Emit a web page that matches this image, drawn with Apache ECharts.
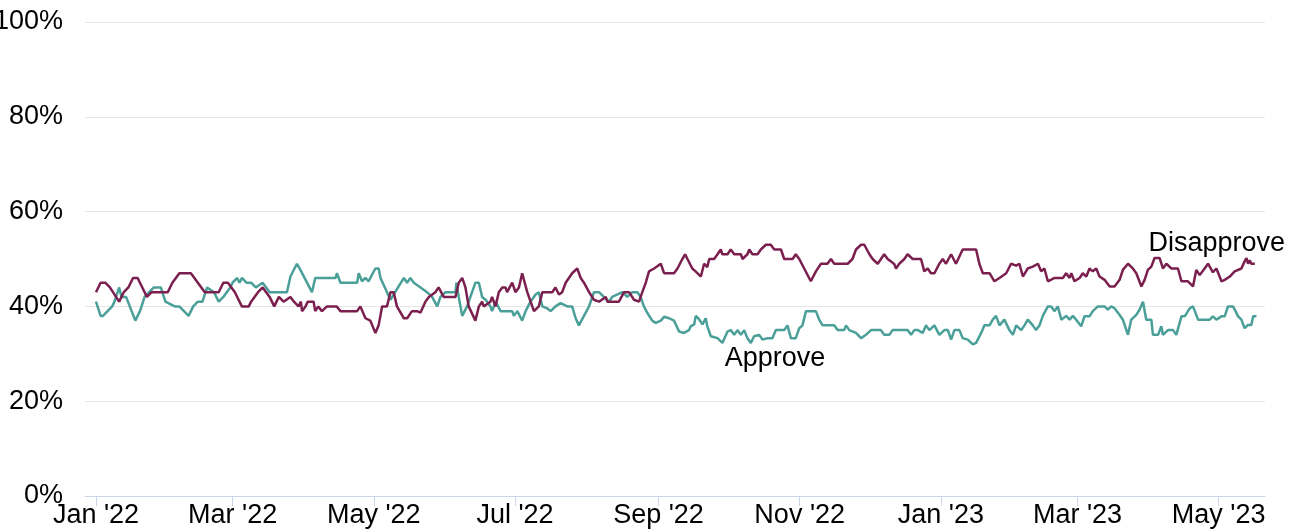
<!DOCTYPE html>
<html>
<head>
<meta charset="utf-8">
<script src="https://cdn.jsdelivr.net/npm/echarts@6/dist/echarts.min.js"></script>
<style>
html,body{margin:0;padding:0;background:#fff;}
#chart{width:1295px;height:532px;}
</style>
</head>
<body>
<div id="chart"></div>
<script>
// Day offsets counted from 2022-01-01, values in percent
var startDate = '2022-01-01';
var approveSeries = [
[0,41],[2,38],[3,38],[5,39],[7,40],[8,41],[10,44],[11,42],[13,42],[17,37],[19,39],[21,42],[23,43],[25,44],[28,44],[30,41],[34,40],[36,40],[40,38],[42,40],[44,41],[46,41],[48,44],[51,43],[53,41],[55,42],[58,44],[59,45],[61,46],[62,45],[63,46],[65,45],[67,45],[69,44],[72,45],[75,43],[77,43],[79.6,43],[82.5,43],[84,46.3],[86.8,49],[88.3,47.7],[93.3,43],[94.7,46],[103.5,46],[104.1,47],[105.6,45],[112.8,45],[113.5,47],[114.9,45.3],[116.4,46],[117.8,45.3],[118.5,46],[120.7,48],[122.1,48],[122.9,46],[127.2,41.4],[133,46],[134.4,45],[135.8,46],[137.3,45],[140.2,44],[143,43],[145.2,42],[147.4,40],[148.8,42],[151,43],[155.3,43],[155.7,45],[156.7,42],[158.2,38],[160.3,40],[163.9,45],[165.4,45],[166.8,42],[168.3,41.4],[170.4,40],[171.1,39],[171.9,40],[172.6,41],[174.8,39],[179.8,39],[180.5,38],[182,39],[184.1,37],[185.6,39],[187.7,41],[189.9,42.5],[191.3,43],[192.8,40],[194.9,39.6],[196.4,39],[198.5,40],[200.7,40.7],[203.6,40],[205.7,40],[207.2,37.5],[208.6,36],[210.8,38],[213,40],[215.1,43],[217.3,43],[219.4,42],[221.6,41],[223,42],[227.4,43],[229.5,42],[231.7,43],[233.9,43],[235.3,42],[236.7,40],[238.2,38.6],[240.3,37],[241.8,36.5],[244,37],[245.4,37.8],[247.6,37.5],[249.7,37],[251.9,34.7],[254,34.4],[256.2,35],[256.9,35.8],[258.4,36.2],[259.1,38],[260.5,37.3],[262,36.2],[263.4,37.5],[264.1,35.8],[265.6,33.7],[268.5,33.3],[270.6,32.3],[272.8,34.7],[274.2,35],[275.7,34],[277.1,35],[278.6,34],[280,35],[281.4,33.3],[282.9,32.3],[284.3,33.7],[286.5,34],[287.9,33],[290.1,33.3],[292.2,33.3],[293.7,35],[297.3,35],[298.7,36],[300.2,33.3],[302.3,33.3],[303.8,35.4],[305.2,36],[306.7,39],[311,39],[312.4,37.2],[313.9,36],[318.9,36],[320.4,35],[323.2,35],[324,36],[325.4,35],[328.3,34.4],[330.5,33.3],[332.6,34],[334.8,35],[339.1,35],[340.5,34],[342.7,34],[344.1,35],[350.6,35],[352.1,34],[353.5,35],[355,35],[357.1,34.4],[358.6,36],[360,35],[362.2,36],[364.3,34],[366.5,35],[368,35],[369.4,33],[370.8,35],[373,35],[374.4,33.3],[376.6,33],[378.8,32],[380.2,32.3],[382.4,34.4],[383.8,36],[386,36],[387.4,37.2],[388.8,38],[390.3,36],[392.4,37.2],[394.6,35],[396.1,34],[397.5,36],[399.7,35],[401.1,36],[402.5,37.2],[404.7,36],[406.1,35],[407.6,36],[409,38],[411.2,40],[412.6,40],[414.1,39],[415.5,40],[417,37.2],[419.1,38],[420.6,37.2],[422,38],[423.4,37.2],[425.6,35.8],[427,37.9],[429.2,37.9],[430.6,39],[432.8,40],[435.7,40],[437.1,39.3],[438.6,40],[440,39.6],[442.2,38.2],[443.6,37.2],[445.8,34],[447.2,37.2],[449.4,38.2],[450.8,39.3],[452.3,41],[453.7,37.2],[455.9,37.2],[456.6,34],[458.8,34],[460.2,35.8],[460.9,34],[463.1,35],[465.3,35],[466.7,34],[468.9,37.9],[470.3,37.9],[472.5,39.6],[473.9,40],[476.1,37.2],[481.1,37.2],[482.5,37.9],[484,37.2],[486.2,37.9],[487.6,37.9],[489,40],[491.2,40],[493.4,37.9],[494.8,37.2],[496.2,35.4],[497.7,36.1],[499.1,36.1],[499.9,37.9],[501.3,37.9]
];
var disapproveSeries = [
[0,43],[2,45],[4,45],[6,44],[10,41],[12,43],[14,44],[16,46],[18,46],[20,44],[22,42],[24,43],[31,43],[33,45],[36,47],[41,47],[44,45],[47,43],[53,43],[55,45],[57,45],[60,43],[63,40],[66,40],[67,41],[70,43],[72,44],[75,42],[77,40],[79,42],[81,41],[84,42],[85.5,41],[87.5,40],[88.5,41],[89,39],[90.5,40],[91.5,41],[94,41],[94.7,39],[96,40],[97.6,39],[99.8,40],[104,40],[105.6,39],[112.8,39],[114.2,40],[116.4,37.5],[118.5,37],[120.7,34.4],[122.1,36],[123.6,40],[125.7,40],[127.2,43],[128.6,43],[130,40],[133,37.5],[134.4,37.5],[136.5,39],[138.7,39],[140.2,38.7],[142.3,41],[143.8,42],[146.6,43],[148,44],[150.2,42],[155.3,42],[156.7,45],[158.2,46],[159.6,44],[161,40],[163.9,37],[165.4,40],[166.8,41],[167.5,40],[170.4,41],[171.1,42],[172.6,40],[174,43],[175.5,44],[176.9,44],[177.6,43],[179.8,45],[181.2,43],[182.7,44],[184.1,47],[186.3,43],[189.2,39],[191.3,40],[192.8,43],[197.1,43],[198.5,44],[200,42.5],[201.4,43],[202.9,45],[204.3,46],[205.7,47],[207.9,48],[209.4,46],[210.8,45],[213,43],[215.1,41.4],[217.3,41],[220.2,42],[220.9,41],[225.9,41],[228.1,43],[230.3,43],[232.4,41.4],[234.6,41],[236,43],[237.5,45],[238.9,47.4],[241.1,48],[244,49],[245.4,47],[249.7,47],[251.2,48],[253.3,50],[254.5,51],[255.5,50],[257.6,48],[259,47.4],[261.3,46.3],[262.7,49],[264.1,48.3],[264.9,50],[267,50],[268.5,51],[269.9,52],[270.6,51],[272.8,51],[274.2,52],[275.7,51],[278.6,51],[279.3,50],[281.4,51],[282.2,52],[283.6,51],[285.8,51],[287.2,52],[289.4,53],[291.5,53],[293,52],[295.9,52],[297.3,50],[300.9,50],[302.3,51],[303.8,50],[308.8,45.3],[311,47.4],[313.2,49],[316,49],[317.5,50],[318.9,49],[324.7,49],[326.8,50],[328.3,52],[330.5,53],[331.9,53],[334.1,51],[335.5,50],[337.7,49],[339.1,50],[340.5,51],[342,50],[343.4,49.5],[344.9,48.9],[345.6,48],[347,49],[349.2,50],[350.6,51],[352.8,50],[356.4,50],[357.8,47.4],[359.3,48],[360.7,47],[362.2,47],[364.3,49],[365.8,50],[367.2,49],[369.4,51],[371.5,49],[374.4,52],[380.2,52],[381.6,49],[383.1,47],[386,47],[388.1,45.3],[390.3,46],[393.2,47],[395.3,49],[397.5,48.6],[398.9,49],[400.4,46.3],[402.5,48],[404.7,48.4],[406.9,49],[408.3,47.4],[409.7,48],[411.2,45.3],[411.9,45],[414.1,46],[417.7,46],[419.1,47],[420.6,46],[421.3,47],[422.7,45.3],[424.9,46],[426.3,47],[427.8,46.3],[429.2,48],[430.6,47.4],[432.1,48],[433.5,46.3],[435.7,45.6],[437.9,44.2],[440,44.2],[442.2,45.6],[443.6,47.7],[445.8,49],[447.9,48],[449.4,47],[451.6,44.2],[453,45.6],[454.4,47.7],[455.9,48.4],[457.3,50.2],[459.5,50.2],[460.9,48],[462.4,49],[464.5,48],[467.4,48],[468.9,45.3],[471.7,45.3],[473.9,44.2],[475.3,47.7],[476.8,46.6],[478.9,48],[480.4,49],[482.5,47.2],[484,48],[486.2,45.3],[487.6,45.6],[489.8,46.3],[491.9,47.4],[494.8,48],[496.2,49.5],[497,50.2],[497.7,49],[498.4,49.7],[499.1,49],[500.6,49]
];
var tickDates = ['2022-01-01','2022-03-01','2022-05-01','2022-07-01','2022-09-01','2022-11-01','2023-01-01','2023-03-01','2023-05-01'];
var monthNames = ['Jan','Feb','Mar','Apr','May','Jun','Jul','Aug','Sep','Oct','Nov','Dec'];
var yTicks = [0,20,40,60,80,100];
var seriesNames = ['Approve','Disapprove'];
var labelAnchors = { Approve: [271.6, 29.0], Disapprove: [454.7, 53.2] };

var DAY = 86400000;
function ts(s){ var p = s.split('-'); return Date.UTC(+p[0], +p[1]-1, +p[2]); }
var base = ts(startDate);
function dayOf(s){ return Math.round((ts(s) - base) / DAY); }
var tickDays = tickDates.map(dayOf);

var chart = echarts.init(document.getElementById('chart'), null, {renderer:'canvas'});
var font = '"Liberation Sans", Arial, sans-serif';
function mp(name){
  return {
    symbol: 'circle', symbolSize: 0, silent: true,
    label: { show: true, position: [0,0], align: 'left', verticalAlign: 'middle',
      formatter: name, fontSize: 27, fontFamily: font, color: '#000' },
    data: [{ coord: labelAnchors[name] }]
  };
}
chart.setOption({
  backgroundColor: '#ffffff',
  animation: false,
  grid: { left: 85, right: 30, top: 22, bottom: 36, containLabel: false, outerBoundsMode: 'none' },
  xAxis: {
    type: 'value',
    min: -4.75,
    max: 505,
    axisLine: { show: true, onZero: false, lineStyle: { color: '#ccd6eb', width: 1 } },
    axisTick: { show: true, length: 10, lineStyle: { color: '#ccd6eb' }, customValues: tickDays },
    splitLine: { show: false },
    axisLabel: {
      customValues: tickDays,
      showMinLabel: true, showMaxLabel: true,
      margin: 6, fontSize: 27, fontFamily: font, color: '#000',
      formatter: function(v){ var d = new Date(base + v*DAY); return monthNames[d.getUTCMonth()] + " '" + String(d.getUTCFullYear()).slice(2); }
    }
  },
  yAxis: {
    type: 'value', min: 0, max: 100, interval: 20,
    axisLine: { show: false }, axisTick: { show: false },
    splitLine: { show: true, lineStyle: { color: '#e6e6e6', width: 1 } },
    axisLabel: { margin: 22, fontSize: 27, fontFamily: font, color: '#000', formatter: '{value}%' }
  },
  series: [
    { name: seriesNames[0], type: 'line', data: approveSeries, showSymbol: false,
      lineStyle: { color: '#4aa099', width: 2.5 }, itemStyle: { color: '#4aa099' }, z: 2, markPoint: mp('Approve') },
    { name: seriesNames[1], type: 'line', data: disapproveSeries, showSymbol: false,
      lineStyle: { color: '#7b1f4f', width: 2.5 }, itemStyle: { color: '#7b1f4f' }, z: 3, markPoint: mp('Disapprove') }
  ]
});
</script>
</body>
</html>
